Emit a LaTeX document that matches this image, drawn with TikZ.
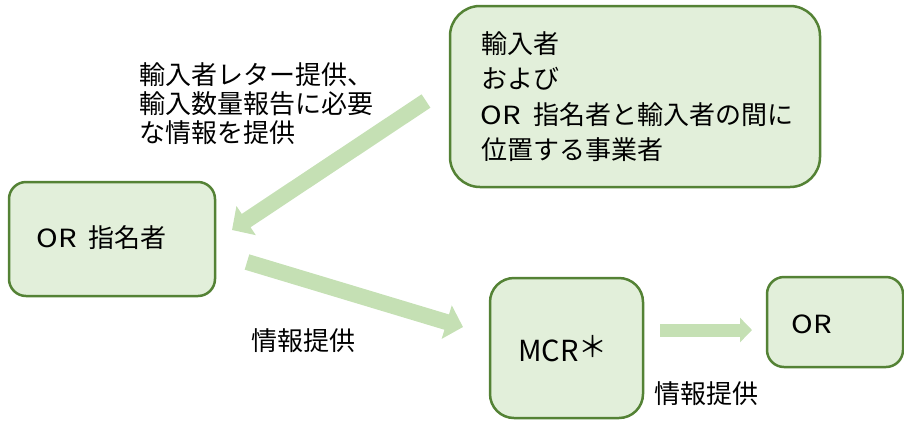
\documentclass[tikz,border=0pt]{standalone}
\usepackage{fontspec}
\usepackage{graphicx}
\setmainfont{Noto Sans CJK JP}
\usetikzlibrary{arrows.meta}
\definecolor{boxfill}{HTML}{E2EFDA}
\definecolor{boxline}{HTML}{548235}
\definecolor{arrowfill}{HTML}{C5E0B4}
\newcommand\latinwide[1]{{\fontsize{25}{35}\selectfont\scalebox{1.17}[1]{#1}}}
\begin{document}
\begin{tikzpicture}[x=1pt,y=-1pt,
  box/.style={draw=boxline,fill=boxfill,line width=2.5pt},
  txt/.style={anchor=base west,inner sep=0pt,font=\fontsize{26}{35}\selectfont},
  bigarrow/.style={draw=arrowfill,line width=16pt,-{Triangle[length=17pt,width=34pt]}},
  smallarrow/.style={draw=arrowfill,line width=13pt,-{Triangle[length=12pt,width=24pt]}}]
\useasboundingbox (0,0) rectangle (904,421);
% boxes
\draw[box,rounded corners=30pt] (450,6) rectangle (820,187);
\draw[box,rounded corners=17pt] (9,182) rectangle (215,296);
\draw[box,rounded corners=24pt] (490,278) rectangle (643,418);
\draw[box,rounded corners=17pt] (767,277) rectangle (903,367);
% box texts
\node[txt] (imp1) at (481,53.5) {輸入者};
\node[txt] (imp2) at (481,88.8) {および};
\node[txt] (imp3) at (480.5,124.8) {\latinwide{OR}\hspace{13pt}指名者と輸入者の間に};
\node[txt] (imp4) at (481,159.4) {位置する事業者};
\node[txt] (ord) at (36.5,247.5) {\latinwide{OR}\hspace{12pt}指名者};
\node[txt,font=\fontsize{29}{35}\selectfont] (mcr) at (518,361.6) {MCR\raisebox{4pt}{＊}};
\node[txt] (or) at (791.5,333) {\latinwide{OR}};
% labels
\node[txt] (lab1) at (139,84) {輸入者レター提供、};
\node[txt] (lab2) at (139,113) {輸入数量報告に必要};
\node[txt] (lab3) at (139,142) {な情報を提供};
\node[txt] (lab4) at (251,350) {情報提供};
\node[txt] (lab5) at (654,403) {情報提供};
% arrows
\coordinate (a1s) at (426,101);
\coordinate (a1e) at (232,230);
\coordinate (a2s) at (247,262);
\coordinate (a2e) at (463,327);
\coordinate (a3s) at (660,330);
\coordinate (a3e) at (752,330);
\draw[bigarrow] (a1s) -- (a1e);
\draw[bigarrow] (a2s) -- (a2e);
\draw[smallarrow] (a3s) -- (a3e);
\end{tikzpicture}
\end{document}
